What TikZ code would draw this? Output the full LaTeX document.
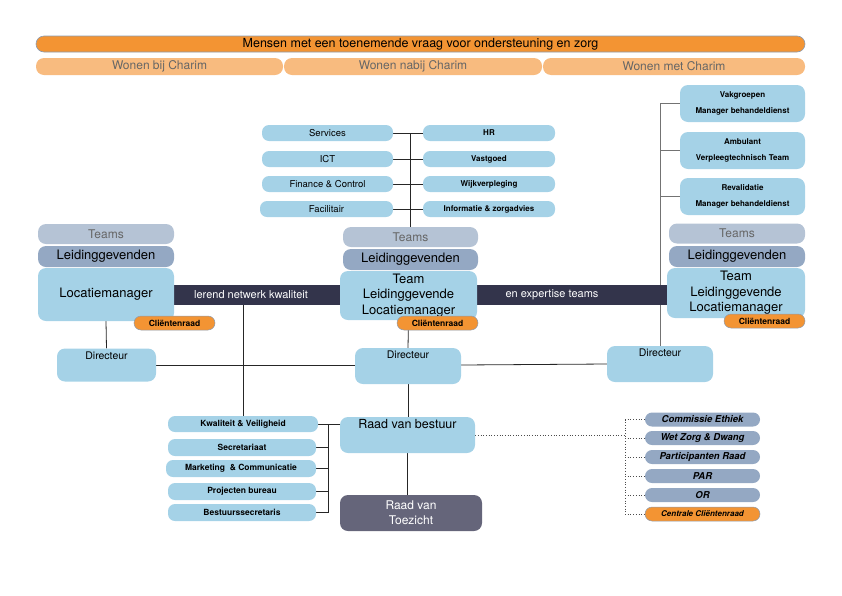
\documentclass[tikz,border=0pt]{standalone}
\usepackage{fontspec}
\setmainfont{TeX Gyre Heros}
\usetikzlibrary{positioning, backgrounds}
\definecolor{oranje}{HTML}{F39433}
\definecolor{lichtoranje}{HTML}{F8BB7F}
\definecolor{lichtblauw}{HTML}{A5D2E7}
\definecolor{grijsblauw}{HTML}{B5C3D5}
\definecolor{leidingblauw}{HTML}{94A8C3}
\definecolor{donkerbalk}{HTML}{33344B}
\definecolor{toezicht}{HTML}{65657A}
\definecolor{randgrijs}{HTML}{8C9BB0}
\tikzset{
	box/.style={
		fill=lichtblauw,
		rounded corners=8pt,
		inner sep=0pt,
		align=center
	},
	pil/.style={
		box,
		rounded corners=7pt,
		minimum height=16pt,
		font=\fontsize{9.5}{10}\selectfont
	},
	pilvet/.style={
		pil,
		minimum width=132pt,
		font=\bfseries\fontsize{8}{9}\selectfont
	},
	wonen/.style={
		fill=lichtoranje,
		rounded corners=8pt,
		inner sep=0pt,
		minimum height=17pt,
		text=black!60,
		font=\fontsize{12}{13}\selectfont
	},
	teams/.style={
		box,
		fill=grijsblauw,
		text=black!60,
		minimum height=20pt,
		font=\fontsize{12}{13}\selectfont
	},
	leiding/.style={
		box,
		fill=leidingblauw,
		minimum height=21pt,
		font=\fontsize{13}{14}\selectfont
	},
	expertbox/.style={
		box,
		minimum width=125pt,
		minimum height=37pt,
		font=\bfseries\fontsize{8}{16}\selectfont
	},
	direc/.style={
		box,
		text height=10.5pt,
		font=\fontsize{10.5}{11}\selectfont
	},
	raad/.style={
		fill=oranje,
		draw=randgrijs,
		line width=.5pt,
		rounded corners=7pt,
		inner sep=0pt,
		minimum width=81pt,
		minimum height=14pt,
		font=\bfseries\fontsize{8.5}{9}\selectfont
	},
	commissie/.style={
		fill=leidingblauw,
		rounded corners=7pt,
		inner sep=0pt,
		minimum width=115pt,
		minimum height=14pt,
		font=\bfseries\itshape\fontsize{9.5}{10}\selectfont
	},
	staf/.style={
		pil,
		minimum height=17pt,
		font=\bfseries\fontsize{8.5}{9}\selectfont
	},
	lijn/.style={
		draw=black!85,
		line width=.8pt
	},
	stippel/.style={
		draw=black!70,
		dotted,
		line width=.7pt
	}
}

\begin{document}
\begin{tikzpicture}[x=1pt, y=-1pt]
	\useasboundingbox (0,0) rectangle (842,595);
	% bovenbalk en woonvormen
	\node[fill=oranje, draw=randgrijs, line width=.6pt, rounded corners=8pt, inner sep=0pt, minimum width=769pt, minimum height=16pt, font=\fontsize{12.5}{13}\selectfont] (vraag) at (420.5,44) {Mensen met een toenemende vraag voor ondersteuning en zorg};
	\node[wonen, minimum width=247pt] (bij) at (159.5,66.5) {Wonen bij Charim};
	\node[wonen, minimum width=258pt] (nabij) at (413,66.5) {Wonen nabij Charim};
	\node[wonen, minimum width=262pt] (met) at (674,66.5) {Wonen met Charim};
	% diensten
	\node[pil, minimum width=131pt] (services) at (327.5,133) {Services};
	\node[pil, minimum width=131pt] (ict) at (327.5,159) {ICT};
	\node[pil, minimum width=131pt] (finance) at (327.5,184) {Finance \& Control};
	\node[pil, minimum width=133pt] (facilitair) at (326.5,209) {Facilitair};
	\node[pilvet] (hr) at (489,133) {HR};
	\node[pilvet] (vastgoed) at (489,159) {Vastgoed};
	\node[pilvet] (wijk) at (489,184) {Wijkverpleging};
	\node[pilvet] (info) at (489,209) {Informatie \& zorgadvies};
	% expertise rechtsboven
	\node[expertbox] (vakgroepen) at (742.5,103.5) {Vakgroepen\\Manager behandeldienst};
	\node[expertbox] (ambulant) at (742.5,150.5) {Ambulant\\Verpleegtechnisch Team};
	\node[expertbox] (revalidatie) at (742.5,196.5) {Revalidatie\\Manager behandeldienst};
	% lerend netwerk
	\node[fill=donkerbalk, inner sep=0pt, minimum width=493pt, minimum height=20pt] (netwerk) at (420.5,295) {};
	\node[text=white, font=\fontsize{11}{12}\selectfont] (kwaliteit) at (251,295) {lerend netwerk kwaliteit};
	\node[text=white, font=\fontsize{11}{12}\selectfont] (expertise) at (552,295) {en expertise teams};
	% bij Charim
	\node[teams, minimum width=136pt] (teamsL) at (106,234) {Teams};
	\node[leiding, minimum width=136pt] (leidingL) at (106,256.5) {Leidinggevenden};
	\node[box, minimum width=136pt, minimum height=53pt, font=\fontsize{13}{14}\selectfont] (managerL) at (106,294.5) {Locatiemanager};
	\node[raad] (raadL) at (174.5,323) {Cliëntenraad};
	% nabij Charim
	\node[teams, minimum width=135pt] (teamsM) at (410.5,237) {Teams};
	\node[leiding, minimum width=135pt] (leidingM) at (410.5,259.5) {Leidinggevenden};
	\node[box, minimum width=137pt, minimum height=49pt, font=\fontsize{13}{15.5}\selectfont] (managerM) at (408.5,295.5) {Team\\Leidinggevende\\Locatiemanager};
	\node[raad] (raadM) at (437.5,323) {Cliëntenraad};
	% met Charim
	\node[teams, minimum width=136pt] (teamsR) at (737,233.5) {Teams};
	\node[leiding, minimum width=136pt] (leidingR) at (737,256.5) {Leidinggevenden};
	\node[box, minimum width=138pt, minimum height=50pt, font=\fontsize{13}{15.5}\selectfont] (managerR) at (736,293) {Team\\Leidinggevende\\Locatiemanager};
	\node[raad] (raadR) at (764.5,321) {Cliëntenraad};
	% directeuren
	\node[direc, minimum width=99pt, text depth=22.5pt] (direcL) at (106.5,365) {Directeur};
	\node[direc, minimum width=106pt, text depth=25.5pt] (direcM) at (408,366) {Directeur};
	\node[direc, minimum width=106pt, text depth=25.5pt] (direcR) at (660,364) {Directeur};
	% bestuur
	\node[box, minimum width=135pt, text height=11pt, text depth=25pt, font=\fontsize{12.5}{13}\selectfont] (bestuur) at (407.5,435) {Raad van bestuur};
	\node[box, fill=toezicht, text=white, minimum width=142pt, minimum height=36pt, font=\fontsize{12}{15}\selectfont] (toezicht) at (411,513) {Raad van\\Toezicht};
	\node[staf, minimum width=150pt, minimum height=16pt] (veiligheid) at (243,424) {Kwaliteit \& Veiligheid};
	\node[staf, minimum width=148pt] (secretariaat) at (242,447.5) {Secretariaat};
	\node[staf, minimum width=150pt] (marketing) at (241,468.5) {Marketing \ \& Communicatie};
	\node[staf, minimum width=148pt] (projecten) at (242,491.5) {Projecten bureau};
	\node[staf, minimum width=148pt] (secretaris) at (242,512.5) {Bestuurssecretaris};
	\coordinate (staflijn) at (328,424);
	% medezeggenschap
	\node[commissie] (ethiek) at (702.5,419.5) {Commissie Ethiek};
	\node[commissie] (wzd) at (702.5,438) {Wet Zorg \& Dwang};
	\node[commissie] (participanten) at (702.5,457) {Participanten Raad};
	\node[commissie] (par) at (702.5,476) {PAR};
	\node[commissie] (or) at (702.5,495) {OR};
	\node[commissie, fill=oranje, draw=randgrijs, line width=.5pt, font=\bfseries\itshape\fontsize{8}{9}\selectfont] (centraal) at (702.5,514) {Centrale Cliëntenraad};
	\coordinate (stippellijn) at (625,419.5);

	\begin{scope}[on background layer]
		% diensten
		\draw[lijn] (teamsM.north |- services.east) -- (teamsM.north);
		\foreach \links/\rechts in {services/hr, ict/vastgoed, finance/wijk, facilitair/info}
			\draw[lijn] (\links.east) -- (\rechts.west);
		% expertise
		\draw[lijn, draw=black!55] (direcR.north |- vakgroepen.west) -- (direcR.north);
		\foreach \blok in {vakgroepen, ambulant, revalidatie}
			\draw[lijn, draw=black!55] (direcR.north |- \blok.west) -- (\blok.west);
		% lijnorganisatie
		\draw[lijn] (managerL.south) -- (direcL.north);
		\draw[lijn] (managerM.south) -- (direcM.north);
		\draw[lijn] (direcL.east) -- (direcL.east -| direcM.west);
		\draw[lijn] (direcM.east |- direcL.east) -- (direcR.west);
		\draw[lijn] (netwerk.south -| veiligheid.north) -- (veiligheid.north);
		\draw[lijn] (direcM.south) -- (direcM.south |- bestuur.north);
		\draw[lijn] (bestuur.south) -- (bestuur.south |- toezicht.north);
		% staf
		\foreach \blok in {veiligheid, secretariaat, marketing, projecten, secretaris}
			\draw[lijn] (\blok.east) -- (staflijn |- \blok.east);
		\draw[lijn] (staflijn) -- (staflijn |- secretaris.east);
		\draw[lijn] (staflijn) -- (staflijn -| bestuur.west);
		% medezeggenschap
		\draw[stippel] (bestuur.east) -- (stippellijn |- bestuur.east);
		\draw[stippel] (stippellijn) -- (stippellijn |- centraal.west);
		\foreach \blok in {ethiek, wzd, participanten, par, or, centraal}
			\draw[stippel] (stippellijn |- \blok.west) -- (\blok.west);
	\end{scope}
\end{tikzpicture}
\end{document}
